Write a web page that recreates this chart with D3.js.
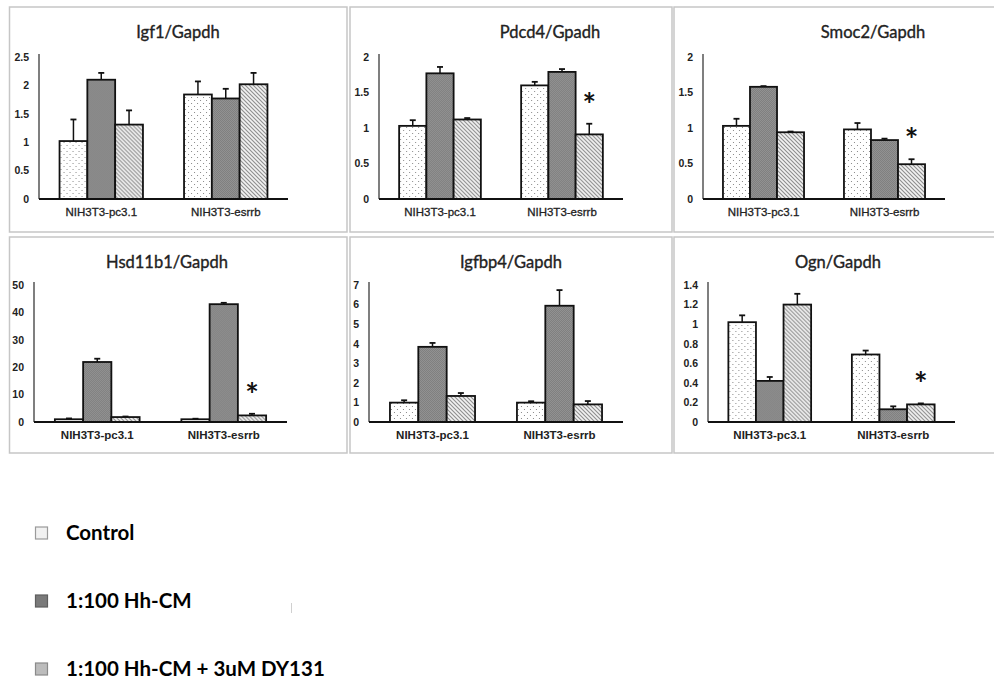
<!DOCTYPE html>
<html>
<head>
<meta charset="utf-8">
<script src="https://cdn.jsdelivr.net/npm/d3@7"></script>
<style>
  body { margin: 0; background: #fff; }
  svg { display: block; font-family: Lato, "Open Sans", sans-serif; }
  .tick text { fill: #222; }
</style>
</head>
<body>
<svg id="chart" width="994" height="679"></svg>
<script>
// groups along the x axis and the three treatments
const categories = ["NIH3T3-pc3.1", "NIH3T3-esrrb"];
const treatments = ["Control", "1:100 Hh-CM", "1:100 Hh-CM + 3uM DY131"];

const titles = ["Igf1/Gapdh", "Pdcd4/Gpadh", "Smoc2/Gapdh", "Hsd11b1/Gapdh", "Igfbp4/Gapdh", "Ogn/Gapdh"];

// means, one row per category, one column per treatment
const igf1 = [[1.02, 2.10, 1.31], [1.84, 1.77, 2.02]];
const pdcd4 = [[1.03, 1.77, 1.12], [1.60, 1.79, 0.91]];
const smoc2 = [[1.03, 1.58, 0.94], [0.98, 0.83, 0.49]];
const hsd11b1 = [[1.0, 21.9, 1.8], [1.0, 43.0, 2.4]];
const igfbp4 = [[0.99, 3.84, 1.33], [0.99, 5.94, 0.90]];
const ogn = [[1.02, 0.42, 1.20], [0.69, 0.13, 0.18]];

// error bar heights (upper only)
const igf1Err = [[0.38, 0.12, 0.25], [0.23, 0.17, 0.20]];
const pdcd4Err = [[0.08, 0.09, 0.02], [0.05, 0.04, 0.15]];
const smoc2Err = [[0.10, 0.01, 0.01], [0.09, 0.02, 0.07]];
const hsd11b1Err = [[0.3, 1.2, 0.2], [0.2, 0.5, 0.6]];
const igfbp4Err = [[0.12, 0.20, 0.15], [0.07, 0.80, 0.17]];
const ognErr = [[0.07, 0.04, 0.11], [0.04, 0.03, 0.01]];

// y tick values per panel
const igf1Ticks = [0, 0.5, 1, 1.5, 2, 2.5];
const pdcd4Ticks = [0, 0.5, 1, 1.5, 2];
const smoc2Ticks = [0, 0.5, 1, 1.5, 2];
const hsd11b1Ticks = [0, 10, 20, 30, 40, 50];
const igfbp4Ticks = [0, 1, 2, 3, 4, 5, 6, 7];
const ognTicks = [0, 0.2, 0.4, 0.6, 0.8, 1, 1.2, 1.4];

// asterisk over esrrb + DY131 bar
const significant = [false, true, true, true, false, true];

const panelValues = [igf1, pdcd4, smoc2, hsd11b1, igfbp4, ogn];
const panelErrors = [igf1Err, pdcd4Err, smoc2Err, hsd11b1Err, igfbp4Err, ognErr];
const panelTicks = [igf1Ticks, pdcd4Ticks, smoc2Ticks, hsd11b1Ticks, igfbp4Ticks, ognTicks];

// layout: box of each panel and its plot frame
const boxes = [
    {x: 9.5, y: 7, w: 337.5, h: 225}, {x: 350, y: 7, w: 322, h: 225}, {x: 674, y: 7, w: 323, h: 225},
    {x: 9.5, y: 237, w: 337.5, h: 216}, {x: 350, y: 237, w: 322, h: 216}, {x: 674, y: 237, w: 323, h: 216}
];
const frames = [
    {x0: 39, x1: 288, y0: 199, y1: 57, tx: 178},
    {x0: 379, x1: 623, y0: 199, y1: 57, tx: 550},
    {x0: 703, x1: 945, y0: 199, y1: 57, tx: 873},
    {x0: 34, x1: 287, y0: 422, y1: 285, tx: 167},
    {x0: 369, x1: 623, y0: 422, y1: 285, tx: 511},
    {x0: 708, x1: 955, y0: 422, y1: 285, tx: 838}
];

const svg = d3.select("#chart");
svg.append("rect").attr("width", 994).attr("height", 679).attr("fill", "#fff");

// fill patterns
const defs = svg.append("defs");

const dots = defs.append("pattern").attr("id", "dots")
    .attr("patternUnits", "userSpaceOnUse").attr("width", 6).attr("height", 6);
dots.append("rect").attr("width", 6).attr("height", 6).attr("fill", "#fff");
dots.append("rect").attr("x", 1).attr("y", 1).attr("width", 1).attr("height", 1).attr("fill", "#8a8a8a");
dots.append("rect").attr("x", 4).attr("y", 4).attr("width", 1).attr("height", 1).attr("fill", "#8a8a8a");

const grid = defs.append("pattern").attr("id", "grid")
    .attr("patternUnits", "userSpaceOnUse").attr("width", 2).attr("height", 2);
grid.append("rect").attr("width", 2).attr("height", 2).attr("fill", "#939393");
grid.append("rect").attr("width", 1).attr("height", 1).attr("fill", "#7f7f7f");
grid.append("rect").attr("x", 1).attr("y", 1).attr("width", 1).attr("height", 1).attr("fill", "#7f7f7f");

const hatch = defs.append("pattern").attr("id", "hatch")
    .attr("patternUnits", "userSpaceOnUse").attr("width", 4).attr("height", 4);
hatch.append("rect").attr("width", 4).attr("height", 4).attr("fill", "#f3f3f3");
hatch.append("path").attr("d", "M0,0L4,4M-1,3L1,5M3,-1L5,1")
    .attr("stroke", "#8c8c8c").attr("stroke-width", 1.1);

const fills = ["url(#dots)", "url(#grid)", "url(#hatch)"];

panelValues.forEach((values, p) => {
    const box = boxes[p];
    const f = frames[p];
    const ticks = panelTicks[p];
    const errs = panelErrors[p];

    svg.append("rect")
        .attr("x", box.x).attr("y", box.y)
        .attr("width", box.w).attr("height", box.h)
        .attr("fill", "none").attr("stroke", "#c6c6c6").attr("stroke-width", 1.5);

    const g = svg.append("g");

    const x = d3.scaleBand()
        .domain(categories)
        .range([f.x0, f.x1])
        .paddingInner(0.33)
        .paddingOuter(0.165);

    const xSub = d3.scaleBand()
        .domain(d3.range(treatments.length))
        .range([0, x.bandwidth()]);

    const y = d3.scaleLinear()
        .domain([0, ticks[ticks.length - 1]])
        .range([f.y0, f.y1]);

    g.append("text")
        .attr("x", f.tx).attr("y", box.y + 31)
        .attr("text-anchor", "middle")
        .attr("font-size", 16.5).attr("fill", "#222")
        .attr("stroke", "#222").attr("stroke-width", 0.35)
        .text(titles[p]);

    const yAxis = g.append("g")
        .attr("transform", "translate(" + f.x0 + ",0)")
        .call(d3.axisLeft(y).tickValues(ticks).tickSize(0).tickPadding(10)
            .tickFormat(d => String(+d.toFixed(1))));
    yAxis.select(".domain").remove();
    yAxis.selectAll("text").attr("font-size", 10.5).attr("font-weight", "bold");

    g.append("line")
        .attr("x1", f.x0).attr("x2", f.x0)
        .attr("y1", f.y1 - 3).attr("y2", f.y0)
        .attr("stroke", "#555").attr("stroke-width", 1.5);

    const xAxis = g.append("g")
        .attr("transform", "translate(0," + f.y0 + ")")
        .call(d3.axisBottom(x).tickSize(0).tickPadding(9));
    xAxis.select(".domain").remove();
    xAxis.selectAll("text").attr("font-size", 11.5)
        .attr("font-weight", p >= 3 ? "bold" : "normal")
        .attr("stroke", p >= 3 ? "none" : "#222").attr("stroke-width", 0.3);

    categories.forEach((cat, c) => {
        const grp = g.append("g").attr("transform", "translate(" + x(cat) + ",0)");

        values[c].forEach((v, t) => {
            const bx = xSub(t);
            const bw = xSub.bandwidth();
            const top = y(v + errs[c][t]);
            const cx = bx + bw / 2;

            grp.append("line")
                .attr("x1", cx).attr("x2", cx)
                .attr("y1", y(v)).attr("y2", top)
                .attr("stroke", "#111").attr("stroke-width", 1.5);
            grp.append("line")
                .attr("x1", cx - 3).attr("x2", cx + 3)
                .attr("y1", top).attr("y2", top)
                .attr("stroke", "#111").attr("stroke-width", 1.8);

            grp.append("rect")
                .attr("x", bx).attr("y", y(v))
                .attr("width", bw).attr("height", f.y0 - y(v))
                .attr("fill", fills[t])
                .attr("stroke", "#111").attr("stroke-width", 1.8);

            if (significant[p] && c === 1 && t === 2) {
                grp.append("text")
                    .attr("x", cx).attr("y", top - 21 + 14)
                    .attr("text-anchor", "middle")
                    .attr("font-size", 32).attr("font-weight", "bold")
                    .attr("fill", "#111")
                    .text("*");
            }
        });
    });

    g.append("line")
        .attr("x1", f.x0).attr("x2", f.x1)
        .attr("y1", f.y0).attr("y2", f.y0)
        .attr("stroke", "#111").attr("stroke-width", 1.8);
});

// legend
const legendFills = ["#f1f1f1", "#7a7a7a", "#bcbcbc"];
const legendStroke = ["#9a9a9a", "#5e5e5e", "#8a8a8a"];
const legendY = [533, 601, 669];

const legend = svg.append("g");
treatments.forEach((name, i) => {
    legend.append("rect")
        .attr("x", 35.5).attr("y", legendY[i] - 6)
        .attr("width", 12).attr("height", 12)
        .attr("fill", legendFills[i]).attr("stroke", legendStroke[i]).attr("stroke-width", 1.2);
    legend.append("text")
        .attr("x", 66).attr("y", legendY[i] + 7)
        .attr("font-size", 20.5).attr("font-weight", "bold").attr("fill", "#000")
        .text(name);
});

// faint stray mark in the source figure
svg.append("line")
    .attr("x1", 291.5).attr("x2", 291.5).attr("y1", 603).attr("y2", 613)
    .attr("stroke", "#d0d0d0").attr("stroke-width", 1);
</script>
</body>
</html>
